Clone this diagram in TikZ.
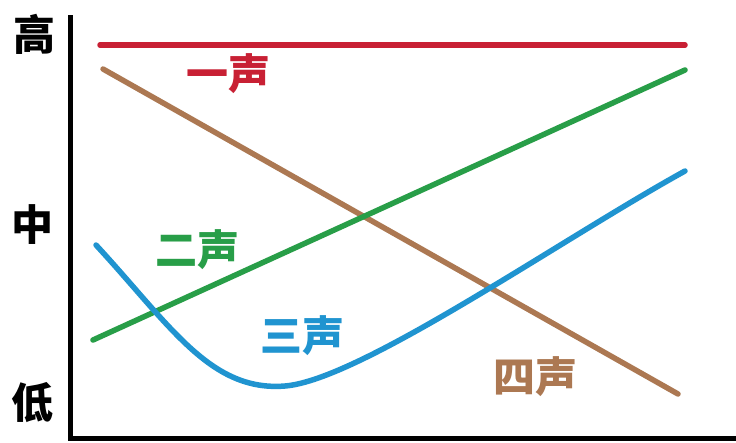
\documentclass[tikz,border=0pt]{standalone}
\usepackage{fontspec}
\newfontfamily\cjk{Noto Sans CJK SC}
\definecolor{tred}{RGB}{200,32,52}
\definecolor{tbrown}{RGB}{172,120,82}
\definecolor{tgreen}{RGB}{40,158,72}
\definecolor{tblue}{RGB}{32,148,208}
\begin{document}
\begin{tikzpicture}[x=1pt,y=-1pt,
  curve/.style={line width=5.5pt,line cap=round},
  axis/.style={line width=5pt,black},
  lbl/.style={font=\cjk\bfseries\fontsize{42}{42}\selectfont,inner sep=0pt,anchor=center},
  ylbl/.style={lbl,text=black}]
\fill[white] (0,0) rectangle (736,442);
\useasboundingbox (0,0) rectangle (736,442);
% axes
\coordinate (ytop) at (70,15);
\coordinate (orig) at (70,438);
\coordinate (xend) at (740,438);
\draw[axis] (ytop) -- (orig) -- (xend);
% axis labels
\node[ylbl] (gao) at (34,34) {高};
\node[ylbl] (zhong) at (33,225) {中};
\node[ylbl] (di) at (33,403) {低};
% tone 1
\coordinate (r1) at (100,45);
\coordinate (r2) at (685,45);
\draw[curve,tred] (r1) -- (r2);
% tone 4
\coordinate (b1) at (103,69);
\coordinate (b2) at (678,394);
\draw[curve,tbrown] (b1) -- (b2);
% tone 2
\coordinate (g1) at (93,340);
\coordinate (g2) at (685,70);
\draw[curve,tgreen] (g1) -- (g2);
% tone 3
\coordinate (s1) at (96,245);
\coordinate (s2) at (285,386);
\coordinate (s3) at (685,171);
\draw[curve,tblue] (s1) .. controls (170,325) and (210,392) .. (s2)
  .. controls (360,380) and (560,240) .. (s3);
% labels
\node[lbl,text=tred] (t1) at (228,74) {一声};
\node[lbl,text=tgreen] (t2) at (197,250) {二声};
\node[lbl,text=tblue] (t3) at (302,336) {三声};
\node[lbl,text=tbrown] (t4) at (535,377) {四声};
\end{tikzpicture}
\end{document}
